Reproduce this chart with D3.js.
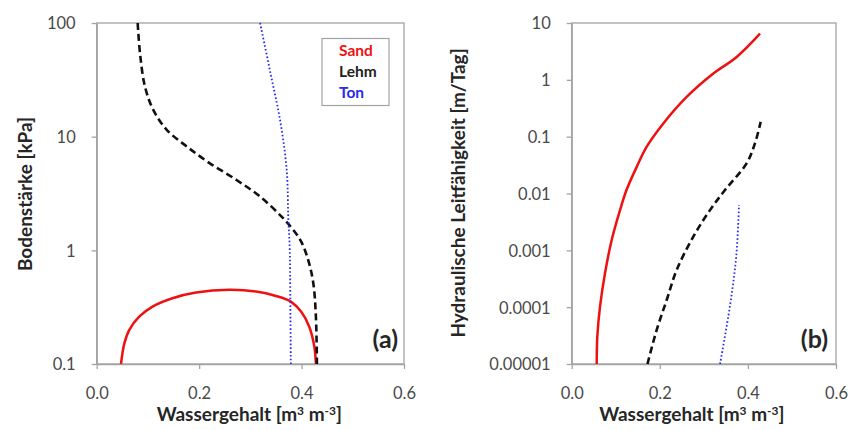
<!DOCTYPE html>
<html><head><meta charset="utf-8">
<script src="https://cdn.jsdelivr.net/npm/d3@7"></script>
<style>
body{margin:0;background:#fff;}
svg{display:block;}
</style></head>
<body><svg id="chart" width="861" height="430"></svg>
<script>
// ---- data ----
const xTicks = [0.0, 0.2, 0.4, 0.6];
const aYTicks = [0.1, 1, 10, 100];
const aYLabels = ["0.1", "1", "10", "100"];
const bYTicks = [0.00001, 0.0001, 0.001, 0.01, 0.1, 1, 10];
const bYLabels = ["0.00001", "0.0001", "0.001", "0.01", "0.1", "1", "10"];
const soils = ["Sand", "Lehm", "Ton"];

// panel (a): Wassergehalt vs Bodenstärke [kPa]
const aSandX = [0.0474, 0.054, 0.0637, 0.083, 0.109, 0.148, 0.194, 0.259, 0.311, 0.350, 0.379, 0.399, 0.415, 0.425, 0.428];
const aSandY = [0.1, 0.152, 0.2, 0.261, 0.32, 0.379, 0.425, 0.449, 0.434, 0.397, 0.354, 0.289, 0.213, 0.142, 0.1];
const aLehmX = [0.080, 0.0846, 0.0943, 0.1105, 0.1367, 0.1757, 0.221, 0.273, 0.319, 0.361, 0.382, 0.399, 0.413, 0.423, 0.428, 0.43];
const aLehmY = [100, 54, 27.5, 17.2, 11.5, 8.2, 5.83, 4.16, 2.97, 1.98, 1.55, 1.2, 0.82, 0.51, 0.26, 0.1];
const aTonX = [0.319, 0.338, 0.358, 0.371, 0.374, 0.377, 0.378, 0.379];
const aTonY = [100, 38.6, 14, 5.1, 1.98, 1.0, 0.4, 0.1];

// panel (b): Wassergehalt vs Hydraulische Leitfähigkeit [m/Tag]
const bSandX = [0.0568, 0.0581, 0.0643, 0.0756, 0.0908, 0.1097, 0.1244, 0.1476, 0.170, 0.208, 0.261, 0.3215, 0.3746, 0.4275];
const bSandY = [0.00001, 0.00003, 0.000102, 0.000394, 0.00152, 0.0051, 0.0115, 0.0294, 0.066, 0.171, 0.50, 1.29, 2.53, 6.5];
const bLehmX = [0.172, 0.193, 0.2157, 0.2383, 0.276, 0.314, 0.348, 0.397, 0.416, 0.429];
const bLehmY = [0.00001, 0.00004, 0.000134, 0.00045, 0.00174, 0.0051, 0.0115, 0.0339, 0.076, 0.182];
const bTonX = [0.3367, 0.359, 0.3735, 0.3798];
const bTonY = [0.00001, 0.000102, 0.00078, 0.00625];

// ---- drawing ----
const svg = d3.select("#chart");
const colors = {Sand: "#ee1111", Lehm: "#111111", Ton: "#2a2aee"};
const dashes = {Sand: null, Lehm: "7,4", Ton: "1.6,2.2"};
const widths = {Sand: 2.5, Lehm: 2.6, Ton: 1.8};
const font = "Lato, 'Open Sans', sans-serif";
const frameCol = "#a3a3a3";

function zip(xs, ys){ return xs.map((x,i)=>[x, ys[i]]); }

function panel(cfg){
  const x = d3.scaleLinear().domain([0, 0.6]).range([cfg.left, cfg.right]);
  const y = d3.scaleLog().domain(cfg.yDomain).range([cfg.bottom, cfg.top]);
  const g = svg.append("g");
  g.append("rect").attr("x", cfg.left).attr("y", cfg.top)
    .attr("width", cfg.right - cfg.left).attr("height", cfg.bottom - cfg.top)
    .attr("fill", "none").attr("stroke", frameCol).attr("stroke-width", 1.3);
  const xa = g.append("g").attr("transform", `translate(0,${cfg.bottom})`)
    .call(d3.axisBottom(x).tickValues(xTicks).tickFormat(d3.format(".1f")).tickSize(5).tickSizeOuter(0));
  const ya = g.append("g").attr("transform", `translate(${cfg.left},0)`)
    .call(d3.axisLeft(y).tickValues(cfg.yTicks).tickFormat((d,i)=>cfg.yLabels[i]).tickSize(5).tickSizeOuter(0));
  [xa, ya].forEach(a=>{
    a.select(".domain").attr("stroke", frameCol).attr("stroke-width", 1.3);
    a.selectAll(".tick line").attr("stroke", frameCol).attr("stroke-width", 1.3);
    a.selectAll(".tick text").attr("fill", "#4a4a4a").style("font-family", font).style("font-size", "16.5px");
  });
  xa.selectAll(".tick text").attr("y", 35).attr("dy", 0);
  ya.selectAll(".tick text").attr("x", -21).attr("dy", "0.36em");
  const line = d3.line().x(d=>x(d[0])).y(d=>y(d[1])).curve(d3.curveCatmullRom.alpha(0.5));
  cfg.series.forEach(s=>{
    g.append("path").datum(zip(s.xs, s.ys))
      .attr("d", line).attr("fill", "none")
      .attr("stroke", colors[s.name]).attr("stroke-width", widths[s.name])
      .attr("stroke-dasharray", dashes[s.name]);
  });
  g.append("text").attr("x", (cfg.left + cfg.right)/2 + cfg.xTitleShift).attr("y", 421)
    .attr("text-anchor", "middle").attr("fill", "#262626")
    .style("font-family", font).style("font-weight", "bold").style("font-size", "19px")
    .html('Wassergehalt [m<tspan dy="-6" font-size="12px">3</tspan><tspan dy="6"> m</tspan><tspan dy="-6" font-size="12px">-3</tspan><tspan dy="6">]</tspan>');
  g.append("text").attr("transform", `translate(${cfg.yTitleX},${cfg.yTitleY}) rotate(-90)`)
    .attr("text-anchor", "middle").attr("fill", "#262626")
    .style("font-family", font).style("font-weight", "bold").style("font-size", "19px")
    .text(cfg.yTitle);
  g.append("text").attr("x", cfg.right - cfg.tagRight).attr("y", cfg.bottom - 16)
    .attr("text-anchor", "end").attr("fill", "#262626")
    .style("font-family", font).style("font-weight", "bold").style("font-size", "25px")
    .text(cfg.tag);
  return {g, x, y};
}

panel({left: 96.7, right: 404, top: 23, bottom: 364, yDomain: [0.1, 100],
  yTicks: aYTicks, yLabels: aYLabels, yTitle: "Bodenstärke [kPa]", yTitleX: 32, yTitleY: 194,
  tag: "(a)", tagRight: 6, xTitleShift: -1,
  series: [{name: "Sand", xs: aSandX, ys: aSandY}, {name: "Lehm", xs: aLehmX, ys: aLehmY}, {name: "Ton", xs: aTonX, ys: aTonY}]});

panel({left: 571.7, right: 836, top: 23, bottom: 364, yDomain: [0.00001, 10],
  yTicks: bYTicks, yLabels: bYLabels, yTitle: "Hydraulische Leitfähigkeit [m/Tag]", yTitleX: 465, yTitleY: 193,
  tag: "(b)", tagRight: 8, xTitleShift: -12,
  series: [{name: "Sand", xs: bSandX, ys: bSandY}, {name: "Lehm", xs: bLehmX, ys: bLehmY}, {name: "Ton", xs: bTonX, ys: bTonY}]});

// legend
const lg = svg.append("g");
lg.append("rect").attr("x", 322).attr("y", 38.5).attr("width", 67).attr("height", 67)
  .attr("fill", "#fff").attr("stroke", frameCol).attr("stroke-width", 1.2);
soils.forEach((s,i)=>{
  lg.append("text").attr("x", 339).attr("y", 55.5 + i*21)
    .attr("fill", s === "Lehm" ? "#222" : colors[s])
    .style("font-family", font).style("font-weight", "bold").style("font-size", "15.5px")
    .text(s);
});
</script></body></html>
